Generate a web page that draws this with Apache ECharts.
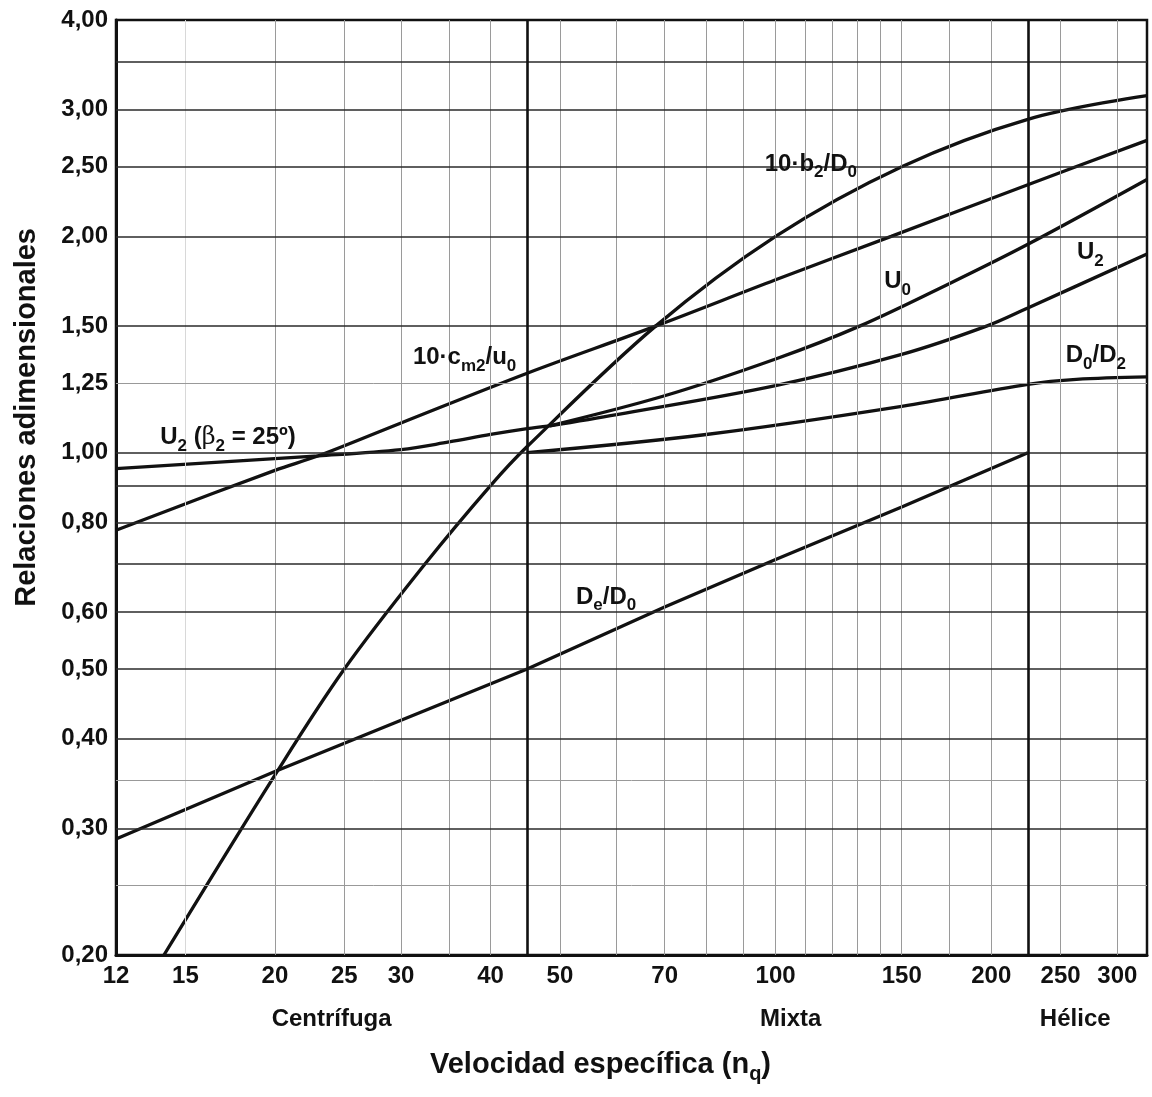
<!DOCTYPE html>
<html>
<head>
<meta charset="utf-8">
<script src="https://cdn.jsdelivr.net/npm/echarts@6/dist/echarts.min.js"></script>
<style>
  html, body { margin: 0; padding: 0; background: #fff; }
  #chart { width: 1152px; height: 1097px; }
</style>
</head>
<body>
<div id="chart"></div>
<script>
var FONT = '"Liberation Sans", Arial, sans-serif';
var INK = '#111';

// ejes (valores de las marcas)
var xTicks = [12, 15, 20, 25, 30, 40, 50, 70, 100, 150, 200, 250, 300];
var yTicks = [0.2, 0.3, 0.4, 0.5, 0.6, 0.8, 1, 1.25, 1.5, 2, 2.5, 3, 4];

// líneas de la cuadrícula
var xGridFaint = [15];
var xGrid = [20, 25, 30, 35, 40, 50, 60, 70, 80, 90, 100, 110, 120, 130, 140, 150, 175, 200, 250, 300];
var xGridBold = [45, 225];
var yGrid = [0.3, 0.4, 0.5, 0.6, 0.7, 0.8, 0.9, 1, 1.5, 2, 2.5, 3, 3.5];
var yGridLight = [0.25, 0.35, 1.25];

// zonas
var zoneNames = ['Centrífuga', 'Mixta', 'Hélice'];
var zoneAt = [24, 105, 262];

// curvas [nq, relación]
var b2D0 = [[14, 0.2], [20, 0.356], [25, 0.5], [32.4, 0.7], [40, 0.9], [45, 1.02], [68, 1.5],
  [100, 2.0], [150, 2.5], [225, 2.91], [330, 3.14]];
var cm2u0 = [[12, 0.78], [20, 0.945], [23, 0.99], [30, 1.1], [45, 1.29], [68, 1.5], [100, 1.74],
  [145, 2.0], [225, 2.36], [330, 2.72]];
var u2b25 = [[12, 0.95], [23, 0.99], [30, 1.01], [35, 1.035], [40, 1.06], [45, 1.08], [48.4, 1.09]];
var u0 = [[48.4, 1.09], [70, 1.2], [100, 1.35], [131, 1.5], [175, 1.72], [225, 1.95], [330, 2.4]];
var u2 = [[48.4, 1.09], [60, 1.13], [100, 1.24], [150, 1.37], [197, 1.5], [225, 1.59], [330, 1.89]];
var d0d2 = [[45, 1.0], [80, 1.06], [150, 1.16], [225, 1.245], [263, 1.265], [330, 1.275]];
var deD0 = [[12, 0.29], [20, 0.36], [45, 0.5], [70, 0.61], [100, 0.71], [150, 0.84], [225, 1.0]];

// rótulos de las curvas (posición en unidades de los ejes)
var curveLabels = [
  { text: '{n|10·b}{s|2}{n|/D}{s|0}', at: [112, 2.52] },
  { text: '{n|10·c}{s|m2}{n|/u}{s|0}', at: [36.8, 1.356] },
  { text: '{n|U}{s|0}', at: [148, 1.73] },
  { text: '{n|U}{s|2}', at: [275, 1.9] },
  { text: '{n|D}{s|0}{n|/D}{s|2}', at: [280, 1.365] },
  { text: '{n|D}{s|e}{n|/D}{s|0}', at: [58, 0.63] },
  { text: '{n|U}{s|2}{n| (}{g|β}{s|2}{n| = 25º)}', at: [17.2, 1.05] }
];

var rich = {
  n: { fontFamily: FONT, fontWeight: 'bold', fontSize: 24, lineHeight: 34, color: INK },
  s: { fontFamily: FONT, fontWeight: 'bold', fontSize: 17, lineHeight: 17, verticalAlign: 'bottom', color: INK },
  g: { fontFamily: '"DejaVu Serif", serif', fontSize: 24, lineHeight: 34, color: INK }
};

function fmtY(v) { return v.toFixed(2).replace('.', ','); }

function vLines(vals, color, width) {
  return vals.map(function (v) { return { xAxis: v, lineStyle: { color: color, width: width, type: 'solid' } }; });
}
function hLines(vals, color, width) {
  return vals.map(function (v) { return { yAxis: v, lineStyle: { color: color, width: width, type: 'solid' } }; });
}

function curve(name, data, smooth) {
  return {
    name: name, type: 'line', data: data, smooth: smooth, symbol: 'none', z: 3, silent: true,
    lineStyle: { color: INK, width: 3.3 }
  };
}

var series = [
  {
    name: 'cuadricula', type: 'line', data: [], z: 1, silent: true,
    markLine: {
      silent: true, symbol: ['none', 'none'], label: { show: false }, animation: false,
      data: [].concat(
        vLines(xGridFaint, '#d8d8d8', 1),
        vLines(xGrid, '#9a9a9a', 1),
        hLines(yGridLight, '#999', 1),
        hLines(yGrid, '#2a2a2a', 1.6),
        vLines(xGridBold, INK, 2.6)
      )
    }
  },
  curve('10·b2/D0', b2D0, 0.35),
  curve('10·cm2/u0', cm2u0, 0.35),
  curve('U2 (β2 = 25º)', u2b25, 0.35),
  curve('U0', u0, 0.35),
  curve('U2', u2, 0.35),
  curve('D0/D2', d0d2, 0.35),
  curve('De/D0', deD0, false),
  {
    name: 'rotulos', type: 'line', data: [], z: 4, silent: true,
    markPoint: {
      silent: true, symbol: 'circle', symbolSize: 0, animation: false,
      data: curveLabels.map(function (l) {
        return { coord: l.at, label: { show: true, position: 'inside', formatter: l.text, rich: rich } };
      })
    }
  }
];

var chart = echarts.init(document.getElementById('chart'));
chart.setOption({
  animation: false,
  backgroundColor: '#fff',
  grid: { left: 116, right: 5, top: 20, bottom: 142, show: true, borderColor: INK, borderWidth: 2.5 },
  xAxis: [{
    type: 'log', min: 12, max: 330,
    axisLine: { show: true, lineStyle: { color: INK, width: 3 } },
    axisTick: { show: false },
    splitLine: { show: false },
    axisLabel: {
      customValues: xTicks, margin: 9, color: INK, fontFamily: FONT, fontWeight: 'bold', fontSize: 24,
      formatter: function (v) { return String(Math.round(v)); }
    }
  }, {
    type: 'log', min: 12, max: 330, position: 'bottom',
    axisLine: { show: false }, axisTick: { show: false }, splitLine: { show: false },
    axisLabel: {
      customValues: zoneAt, margin: 52, color: INK, fontFamily: FONT, fontWeight: 'bold', fontSize: 24,
      formatter: function (v) { return zoneNames[zoneAt.indexOf(Math.round(v))] || ''; }
    }
  }],
  yAxis: {
    type: 'log', min: 0.2, max: 4,
    axisLine: { show: true, lineStyle: { color: INK, width: 3 } },
    axisTick: { show: false },
    splitLine: { show: false },
    axisLabel: {
      customValues: yTicks, margin: 8, color: INK, fontFamily: FONT, fontWeight: 'bold', fontSize: 24,
      formatter: fmtY
    }
  },
  graphic: [{
    type: 'text', left: 12, top: 228, rotation: Math.PI / 2, silent: true,
    style: { text: 'Relaciones adimensionales', fill: INK, font: 'bold 29px ' + FONT }
  }, {
    type: 'text', left: 430, top: 1050, silent: true,
    style: {
      text: '{t|Velocidad específica (n}{q|q}{t|)}',
      rich: {
        t: { fontFamily: FONT, fontWeight: 'bold', fontSize: 29, lineHeight: 40, fill: INK, color: INK },
        q: { fontFamily: FONT, fontWeight: 'bold', fontSize: 20, lineHeight: 20, verticalAlign: 'bottom', fill: INK, color: INK }
      }
    }
  }],
  series: series
});
</script>
</body>
</html>
